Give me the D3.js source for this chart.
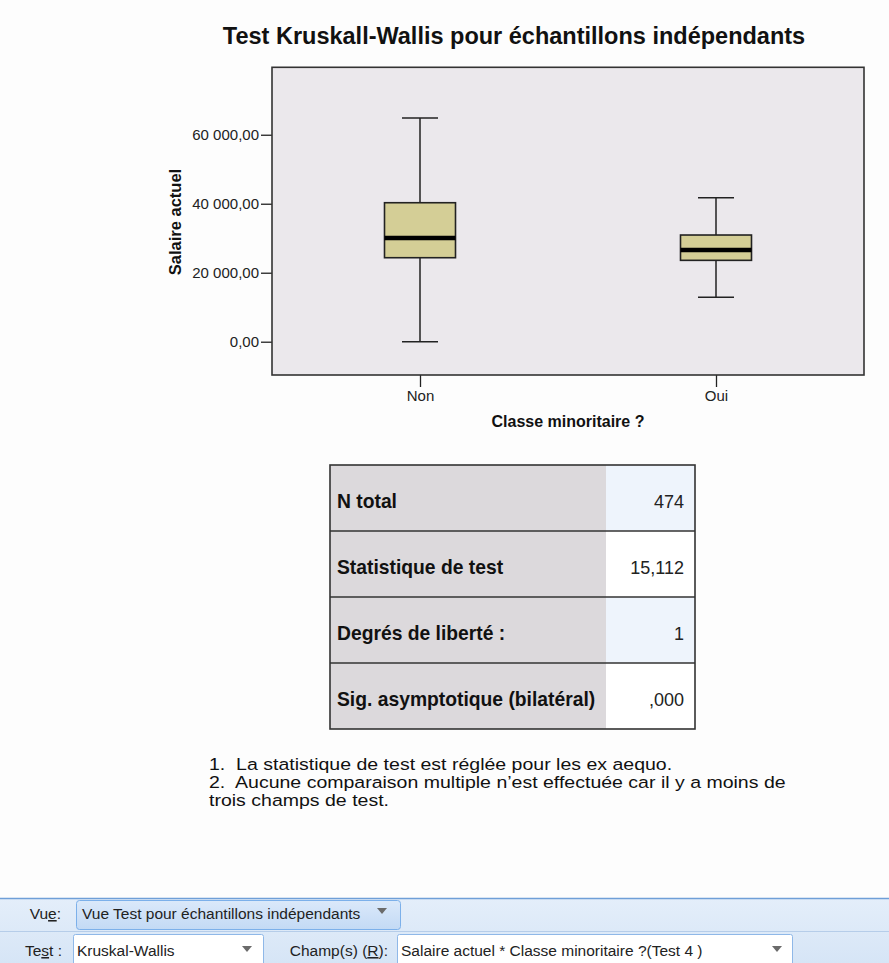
<!DOCTYPE html>
<html>
<head>
<meta charset="utf-8">
<script src="https://cdn.jsdelivr.net/npm/d3@7"></script>
<style>
  html, body { margin: 0; padding: 0; background: #fdfdfd; }
  svg { display: block; font-family: "Liberation Sans", Arial, sans-serif; }
  .pre { white-space: pre; }
</style>
</head>
<body>
<svg id="chart" width="889" height="963"></svg>
<script>
// ---- Data ----
const chartTitle = "Test Kruskall-Wallis pour échantillons indépendants";
const yAxisTitle = "Salaire actuel";
const xAxisTitle = "Classe minoritaire ?";
const categories = ["Non", "Oui"];
const whiskerLow  = [0, 12870];
const q1Values    = [24350, 23590];
const medianValues= [30060, 26580];
const q3Values    = [40290, 30930];
const whiskerHigh = [64840, 41740];
const yTicks = [0, 20000, 40000, 60000];
const yDomain = [-9650, 79550];

const tableLabels = ["N total", "Statistique de test", "Degrés de liberté :", "Sig. asymptotique (bilatéral)"];
const tableValues = ["474", "15,112", "1", ",000"];

const footnotes = [
  "1.  La statistique de test est réglée pour les ex aequo.",
  "2.  Aucune comparaison multiple n\u2019est effectuée car il y a moins de",
  "trois champs de test."
];

const viewLabel = "Vue:";
const viewValue = "Vue Test pour échantillons indépendants";
const testLabel = "Test :";
const testValue = "Kruskal-Wallis";
const fieldLabel = "Champ(s) (R):";
const fieldValue = "Salaire actuel * Classe minoritaire ?(Test 4 )";

// ---- Layout ----
const svg = d3.select("#chart");
const plot = { left: 272, right: 864, top: 67.3, bottom: 375 };

const frFmt = d3.formatLocale({ decimal: ",", thousands: " ", grouping: [3], currency: ["", ""] }).format(",.2f");

const x = d3.scalePoint().domain(categories).range([plot.left, plot.right]).padding(0.5);
const y = d3.scaleLinear().domain(yDomain).range([plot.bottom, plot.top]);

// Title
svg.append("text")
  .attr("x", 514).attr("y", 44)
  .attr("text-anchor", "middle")
  .attr("font-size", 23.5).attr("font-weight", "bold")
  .attr("fill", "#111")
  .text(chartTitle);

// Plot background
svg.append("rect")
  .attr("x", plot.left).attr("y", plot.top)
  .attr("width", plot.right - plot.left).attr("height", plot.bottom - plot.top)
  .attr("fill", "#ebe8ec");

// Y axis
const yAxis = d3.axisLeft(y).tickValues(yTicks).tickFormat(frFmt).tickSize(11).tickSizeOuter(0).tickPadding(2);
const gy = svg.append("g").attr("transform", `translate(${plot.left},0)`).call(yAxis);
gy.select(".domain").remove();
gy.selectAll(".tick line").attr("stroke", "#222").attr("stroke-width", 1.3);
gy.selectAll(".tick text").attr("font-size", 15).attr("fill", "#222").attr("font-family", "Liberation Sans, Arial, sans-serif");

// X axis
const xAxis = d3.axisBottom(x).tickSize(12).tickSizeOuter(0).tickPadding(3);
const gx = svg.append("g").attr("transform", `translate(0,${plot.bottom})`).call(xAxis);
gx.select(".domain").remove();
gx.selectAll(".tick line").attr("stroke", "#222").attr("stroke-width", 1.3);
gx.selectAll(".tick text").attr("font-size", 15).attr("fill", "#222").attr("font-family", "Liberation Sans, Arial, sans-serif");

// Frame
svg.append("rect")
  .attr("x", plot.left).attr("y", plot.top)
  .attr("width", plot.right - plot.left).attr("height", plot.bottom - plot.top)
  .attr("fill", "none").attr("stroke", "#333").attr("stroke-width", 1.6);

// Axis titles
svg.append("text")
  .attr("transform", `translate(181,222) rotate(-90)`)
  .attr("text-anchor", "middle")
  .attr("font-size", 16.5).attr("font-weight", "bold").attr("fill", "#111")
  .text(yAxisTitle);
svg.append("text")
  .attr("x", (plot.left + plot.right) / 2).attr("y", 427)
  .attr("text-anchor", "middle")
  .attr("font-size", 16).attr("font-weight", "bold").attr("fill", "#111")
  .text(xAxisTitle);

// Boxplots
const boxW = 71, capW = 36;
const boxes = categories.map((c, i) => ({
  c, lo: whiskerLow[i], q1: q1Values[i], med: medianValues[i], q3: q3Values[i], hi: whiskerHigh[i]
}));
const gb = svg.append("g").selectAll("g").data(boxes).join("g");
gb.append("line")
  .attr("x1", d => x(d.c)).attr("x2", d => x(d.c))
  .attr("y1", d => y(d.hi)).attr("y2", d => y(d.q3))
  .attr("stroke", "#222").attr("stroke-width", 1.5);
gb.append("line")
  .attr("x1", d => x(d.c)).attr("x2", d => x(d.c))
  .attr("y1", d => y(d.q1)).attr("y2", d => y(d.lo))
  .attr("stroke", "#222").attr("stroke-width", 1.5);
gb.append("line")
  .attr("x1", d => x(d.c) - capW / 2).attr("x2", d => x(d.c) + capW / 2)
  .attr("y1", d => y(d.hi)).attr("y2", d => y(d.hi))
  .attr("stroke", "#222").attr("stroke-width", 1.5);
gb.append("line")
  .attr("x1", d => x(d.c) - capW / 2).attr("x2", d => x(d.c) + capW / 2)
  .attr("y1", d => y(d.lo)).attr("y2", d => y(d.lo))
  .attr("stroke", "#222").attr("stroke-width", 1.5);
gb.append("rect")
  .attr("x", d => x(d.c) - boxW / 2).attr("width", boxW)
  .attr("y", d => y(d.q3)).attr("height", d => y(d.q1) - y(d.q3))
  .attr("fill", "#d4ce96").attr("stroke", "#222").attr("stroke-width", 1.6);
gb.append("line")
  .attr("x1", d => x(d.c) - boxW / 2).attr("x2", d => x(d.c) + boxW / 2)
  .attr("y1", d => y(d.med)).attr("y2", d => y(d.med))
  .attr("stroke", "#000").attr("stroke-width", 4.5);

// ---- Table ----
const tbl = { left: 330, split: 606, right: 695, top: 465, rowH: 66 };
const rows = tableLabels.map((l, i) => ({ l, v: tableValues[i], i }));
const gt = svg.append("g");
const rg = gt.selectAll("g").data(rows).join("g")
  .attr("transform", d => `translate(0,${tbl.top + d.i * tbl.rowH})`);
rg.append("rect")
  .attr("x", tbl.left).attr("y", 0).attr("width", tbl.split - tbl.left).attr("height", tbl.rowH)
  .attr("fill", "#dcd9dc");
rg.append("rect")
  .attr("x", tbl.split).attr("y", 0).attr("width", tbl.right - tbl.split).attr("height", tbl.rowH)
  .attr("fill", d => d.i % 2 === 0 ? "#eef4fc" : "#ffffff");
rg.append("text")
  .attr("x", tbl.left + 7).attr("y", 43)
  .attr("font-size", 19.3).attr("font-weight", "bold").attr("fill", "#111")
  .text(d => d.l);
rg.append("text")
  .attr("x", 684).attr("y", 43)
  .attr("text-anchor", "end")
  .attr("font-size", 18).attr("fill", "#222")
  .text(d => d.v);
gt.selectAll("line.row").data(d3.range(1, rows.length)).join("line")
  .attr("x1", tbl.left).attr("x2", tbl.right)
  .attr("y1", d => tbl.top + d * tbl.rowH).attr("y2", d => tbl.top + d * tbl.rowH)
  .attr("stroke", "#333").attr("stroke-width", 1.4);
gt.append("rect")
  .attr("x", tbl.left).attr("y", tbl.top)
  .attr("width", tbl.right - tbl.left).attr("height", tbl.rowH * rows.length)
  .attr("fill", "none").attr("stroke", "#333").attr("stroke-width", 1.6);

// ---- Footnotes ----
const fnX = 209, fnTargetW = 577;
const fnG = svg.append("g");
const fnT = fnG.selectAll("text").data(footnotes).join("text")
  .attr("class", "pre")
  .attr("x", 0).attr("y", (d, i) => 770 + i * 18)
  .attr("font-size", 16.5).attr("fill", "#111")
  .text(d => d);
const natW = fnT.nodes()[1].getComputedTextLength();
fnG.attr("transform", `translate(${fnX},0) scale(${fnTargetW / natW},1)`);

// ---- Bottom toolbar ----
const defs = svg.append("defs");
const g1 = defs.append("linearGradient").attr("id", "tbg").attr("x1", 0).attr("x2", 0).attr("y1", 0).attr("y2", 1);
g1.append("stop").attr("offset", "0%").attr("stop-color", "#e4eefa");
g1.append("stop").attr("offset", "100%").attr("stop-color", "#d6e5f6");
const g2 = defs.append("linearGradient").attr("id", "dd").attr("x1", 0).attr("x2", 0).attr("y1", 0).attr("y2", 1);
g2.append("stop").attr("offset", "0%").attr("stop-color", "#dbe9fa");
g2.append("stop").attr("offset", "100%").attr("stop-color", "#c3daf5");

const tb = svg.append("g");
tb.append("rect").attr("x", 0).attr("y", 898).attr("width", 889).attr("height", 65).attr("fill", "url(#tbg)");
tb.append("line").attr("x1", 0).attr("x2", 889).attr("y1", 898.5).attr("y2", 898.5).attr("stroke", "#6f9fd8").attr("stroke-width", 1.5);
tb.append("line").attr("x1", 0).attr("x2", 889).attr("y1", 931.5).attr("y2", 931.5).attr("stroke", "#b6cde9").attr("stroke-width", 1);

const tbFont = 15.5;
function label(xp, yp, txt, ulIndex, anchor) {
  const t = tb.append("text").attr("x", xp).attr("y", yp).attr("font-size", tbFont).attr("fill", "#222")
    .attr("text-anchor", anchor || "start").attr("class", "pre");
  txt.split("").forEach((ch, i) => {
    const ts = t.append("tspan").text(ch);
    if (i === ulIndex) ts.attr("text-decoration", "underline");
  });
  return t;
}
function arrow(cx, cy) {
  tb.append("path")
    .attr("d", `M${cx - 5},${cy - 3}L${cx + 5},${cy - 3}L${cx},${cy + 3}Z`)
    .attr("fill", "#6b6b6b");
}

label(61, 919, viewLabel, 2, "end");
tb.append("rect").attr("x", 76.5).attr("y", 900.5).attr("width", 324).attr("height", 29).attr("rx", 3)
  .attr("fill", "url(#dd)").attr("stroke", "#7cb0ea");
tb.append("text").attr("x", 82).attr("y", 919).attr("font-size", tbFont).attr("fill", "#222").text(viewValue);
arrow(382, 911);

label(62, 956, testLabel, 2, "end");
tb.append("rect").attr("x", 73.5).attr("y", 934.5).attr("width", 190).attr("height", 32).attr("rx", 2)
  .attr("fill", "#fff").attr("stroke", "#8fb8e8");
tb.append("text").attr("x", 77).attr("y", 956).attr("font-size", tbFont).attr("fill", "#222").text(testValue);
arrow(247, 949);

label(388, 956, fieldLabel, 10, "end");
tb.append("rect").attr("x", 397.5).attr("y", 934.5).attr("width", 395).attr("height", 32).attr("rx", 2)
  .attr("fill", "#fff").attr("stroke", "#8fb8e8");
tb.append("text").attr("x", 401).attr("y", 956).attr("font-size", tbFont).attr("fill", "#222").text(fieldValue);
arrow(777, 949);
</script>
</body>
</html>
